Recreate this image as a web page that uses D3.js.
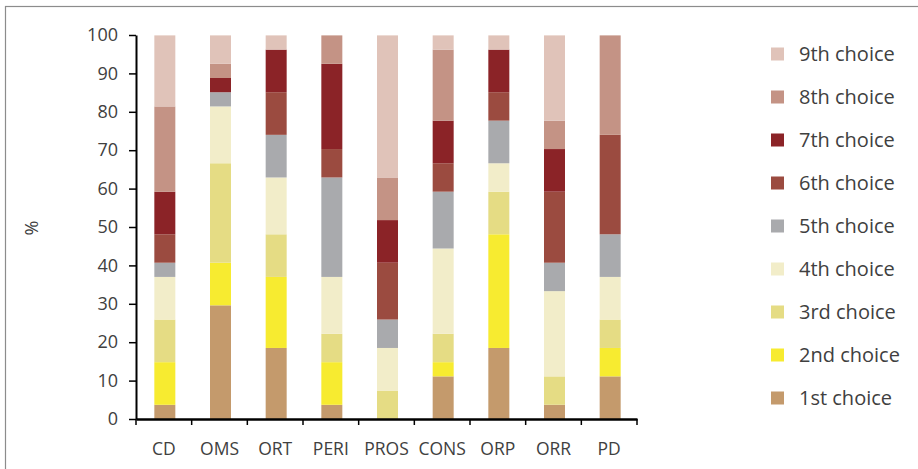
<!DOCTYPE html>
<html>
<head>
<meta charset="utf-8">
<script src="https://cdn.jsdelivr.net/npm/d3@7.9.0/dist/d3.min.js"></script>
<style>
  body { margin: 0; background: #fff; }
  svg { display: block; font-family: "Open Sans", sans-serif; }
  .tick text { fill: #404040; }
</style>
</head>
<body>
<svg id="chart" width="918" height="469"></svg>
<script>
// categories along the x axis
const categories = ['CD', 'OMS', 'ORT', 'PERI', 'PROS', 'CONS', 'ORP', 'ORR', 'PD'];
const choices = ['1st choice', '2nd choice', '3rd choice', '4th choice', '5th choice',
                 '6th choice', '7th choice', '8th choice', '9th choice'];
const yTicks = [0, 10, 20, 30, 40, 50, 60, 70, 80, 90, 100];

// percentage of each choice, one value per category
const first   = [3.7, 29.6, 18.5,  3.7,  0.0, 11.1, 18.5,  3.7, 11.1];
const second  = [11.1, 11.1, 18.5, 11.1,  0.0,  3.7, 29.6,  0.0,  7.4];
const third   = [11.1, 25.9, 11.1,  7.4,  7.4,  7.4, 11.1,  7.4,  7.4];
const fourth  = [11.1, 14.8, 14.8, 14.8, 11.1, 22.2,  7.4, 22.2, 11.1];
const fifth   = [3.7,  3.7, 11.1, 25.9,  7.4, 14.8, 11.1,  7.4, 11.1];
const sixth   = [7.4,  0.0, 11.1,  7.4, 14.8,  7.4,  7.4, 18.5, 25.9];
const seventh = [11.1,  3.7, 11.1, 22.2, 11.1, 11.1, 11.1, 11.1,  0.0];
const eighth  = [22.2,  3.7,  0.0,  7.4, 11.1, 18.5,  0.0,  7.4, 25.9];
const ninth   = [18.5,  7.4,  3.7,  0.0, 37.0,  3.7,  3.7, 22.2,  0.0];

const colors = ['#c49a6c', '#f7eb30', '#e5dc84', '#f2edc9', '#a9aaad',
                '#9b4b40', '#8b2327', '#c49385', '#e0c3b9'];

const series = [first, second, third, fourth, fifth, sixth, seventh, eighth, ninth];

// build rows for d3.stack
const rows = categories.map((c, i) => {
  let row = { cat: c };
  choices.forEach((k, j) => { row[k] = series[j][i]; });
  return row;
});
const stacked = d3.stack().keys(choices)(rows);

const svg = d3.select('#chart');

// outer frame
svg.append('rect')
  .attr('x', 5.5).attr('y', 6.5)
  .attr('width', 960).attr('height', 520)
  .attr('fill', 'none')
  .attr('stroke', '#8c8c8c')
  .attr('stroke-width', 1.2);

const x = d3.scaleBand().domain(categories).range([136, 637]).padding(0);
const y = d3.scaleLinear().domain([0, 100]).range([419, 35]);
const barW = 21;

// bars
svg.append('g')
  .selectAll('g')
  .data(stacked)
  .join('g')
    .attr('fill', (d, i) => colors[i])
  .selectAll('rect')
  .data(d => d)
  .join('rect')
    .attr('x', d => x(d.data.cat) + x.bandwidth() / 2 - barW / 2 + 1)
    .attr('y', d => y(d[1]))
    .attr('width', barW)
    .attr('height', d => y(d[0]) - y(d[1]));

// y axis
const yAxis = svg.append('g')
  .attr('transform', 'translate(136,0)')
  .call(d3.axisLeft(y).tickValues(yTicks).tickSize(7).tickSizeOuter(0).tickPadding(11));
yAxis.select('.domain').attr('stroke', '#000').attr('stroke-width', 2);
yAxis.selectAll('.tick line').attr('stroke', '#000').attr('stroke-width', 1.5);
yAxis.selectAll('.tick text').attr('font-size', 18).attr('font-family', '"Open Sans", sans-serif');

// x axis: labels centered, ticks at band boundaries
const xAxis = svg.append('g')
  .attr('transform', 'translate(0,419)')
  .call(d3.axisBottom(x).tickSize(0).tickSizeOuter(0).tickPadding(24));
xAxis.select('.domain').attr('stroke', '#000').attr('stroke-width', 2.5);
xAxis.selectAll('.tick text').attr('font-size', 17.5).attr('font-family', '"Open Sans", sans-serif');

const edges = categories.map(c => x(c)).concat([x.range()[1]]);
xAxis.selectAll('line.edge')
  .data(edges)
  .join('line')
    .attr('class', 'edge')
    .attr('x1', d => d).attr('x2', d => d)
    .attr('y1', 0).attr('y2', 6)
    .attr('stroke', '#000')
    .attr('stroke-width', 1.5);

// y label
svg.append('text')
  .attr('transform', 'translate(38,228) rotate(-90)')
  .attr('text-anchor', 'middle')
  .attr('font-size', 18)
  .attr('fill', '#404040')
  .text('%');

// legend, 9th choice on top
const legend = svg.append('g');
const legendItems = choices.map((c, i) => ({ label: c, color: colors[i] })).reverse();
legendItems.forEach((d, i) => {
  const cy = 54 + i * 43;
  legend.append('rect')
    .attr('x', 771).attr('y', cy - 6.5)
    .attr('width', 13).attr('height', 13)
    .attr('fill', d.color);
  legend.append('text')
    .attr('x', 799).attr('y', cy)
    .attr('dy', '0.35em')
    .attr('font-size', 20)
    .attr('fill', '#404040')
    .text(d.label);
});
</script>
</body>
</html>
